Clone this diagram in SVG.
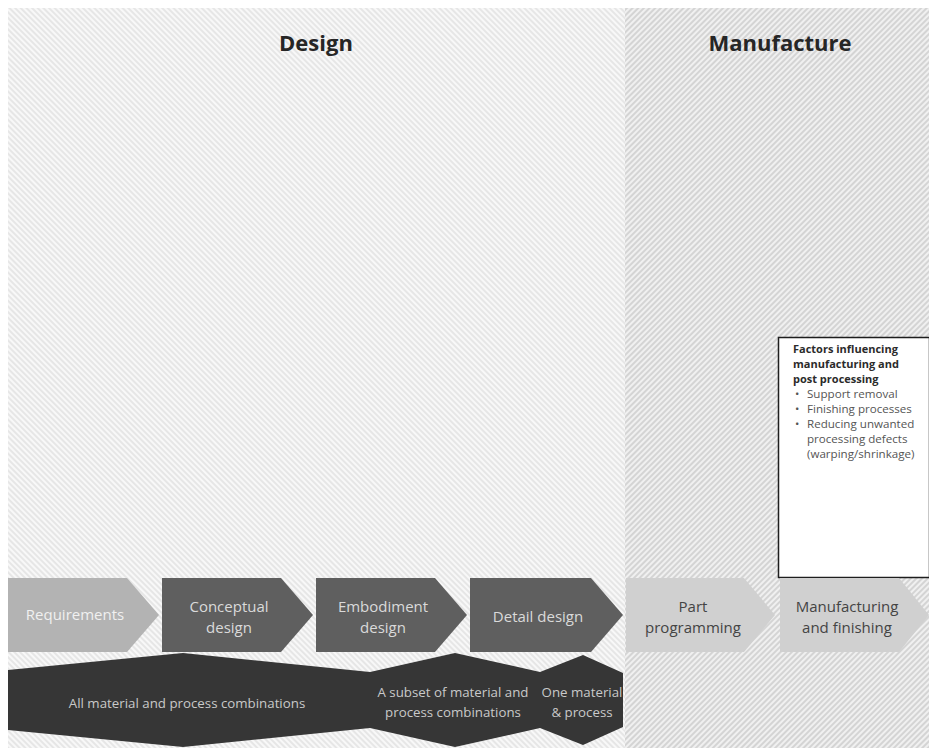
<svg xmlns="http://www.w3.org/2000/svg" width="929" height="748" viewBox="0 0 929 748">
<defs>
<pattern id="hatchD" width="4" height="4" patternUnits="userSpaceOnUse" patternTransform="rotate(-45)">
<rect width="4" height="4" fill="#f8f8f8"/>
<line x1="1" y1="0" x2="1" y2="4" stroke="#e0e0e0" stroke-width="1.5"/>
</pattern>
<pattern id="hatchM" width="4" height="4" patternUnits="userSpaceOnUse" patternTransform="rotate(45)">
<rect width="4" height="4" fill="#f0f0f0"/>
<line x1="1" y1="0" x2="1" y2="4" stroke="#cdcdcd" stroke-width="1.6"/>
</pattern>
<style>
.t{font-family:"Open Sans","Liberation Sans",sans-serif;text-anchor:middle}
.head{font-size:22px;font-weight:bold;fill:#262626}
.step{font-size:15px}
.light{fill:#b3b3b3}
.dark{fill:#5f5f5f}
.pale{fill:#d0d0d0}
.tw{fill:#f0f0f0}
.tl{fill:#dadada}
.td{fill:#444444}
.band{font-size:13.3px;fill:#c9c9c9}
.box{font-family:"Open Sans","Liberation Sans",sans-serif}
.bh{font-size:11px;font-weight:bold;fill:#2b2b2b}
.bl{font-size:11.6px;fill:#555555}
</style>
</defs>
<rect width="929" height="748" fill="#ffffff"/>
<g id="region-design">
<rect x="8" y="8" width="617" height="740" fill="url(#hatchD)"/>
<text class="t head" x="316" y="51">Design</text>
</g>
<g id="region-manufacture">
<rect x="625" y="8" width="304" height="740" fill="url(#hatchM)"/>
<text class="t head" x="780" y="51">Manufacture</text>
</g>
<g id="connectors"/>
<g id="factors-box">
<rect x="778.5" y="337.5" width="151" height="240" fill="#ffffff" stroke="#1e1e1e" stroke-width="1.5"/>
<g class="box">
<text class="bh" x="793" y="353">Factors influencing</text>
<text class="bh" x="793" y="368">manufacturing and</text>
<text class="bh" x="793" y="383">post processing</text>
<text class="bl" x="795" y="398">•</text><text class="bl" x="807" y="398">Support removal</text>
<text class="bl" x="795" y="413">•</text><text class="bl" x="807" y="413">Finishing processes</text>
<text class="bl" x="795" y="428">•</text><text class="bl" x="807" y="428">Reducing unwanted</text>
<text class="bl" x="807" y="443">processing defects</text>
<text class="bl" x="807" y="458">(warping/shrinkage)</text>
</g>
</g>
<g id="step-requirements">
<polygon class="light" points="8,578 127,578 159,615 127,652 8,652"/>
<text class="t step tw" x="75" y="620">Requirements</text>
</g>
<g id="step-conceptual">
<polygon class="dark" points="162,578 281,578 313,615 281,652 162,652"/>
<text class="t step tl" x="229" y="612">Conceptual</text>
<text class="t step tl" x="229" y="633">design</text>
</g>
<g id="step-embodiment">
<polygon class="dark" points="316,578 435,578 467,615 435,652 316,652"/>
<text class="t step tl" x="383" y="612">Embodiment</text>
<text class="t step tl" x="383" y="633">design</text>
</g>
<g id="step-detail">
<polygon class="dark" points="470,578 591,578 623,615 591,652 470,652"/>
<text class="t step tl" x="538" y="622">Detail design</text>
</g>
<g id="step-part">
<polygon class="pale" points="626,578 744,578 775,615 744,652 626,652"/>
<text class="t step td" x="693" y="612">Part</text>
<text class="t step td" x="693" y="633">programming</text>
</g>
<g id="step-manufacturing">
<polygon class="pale" points="780,578 899,578 929,615 899,652 780,652"/>
<text class="t step td" x="847" y="612">Manufacturing</text>
<text class="t step td" x="847" y="633">and finishing</text>
</g>
<g id="options-band">
<polygon fill="#363636" points="8,670 183,653 370,672 455,653 540,672 583,655 623,673 623,727 583,745 540,728 455,747 370,728 183,747 8,730"/>
<text class="t band" x="187" y="708">All material and process combinations</text>
<text class="t band" x="453" y="697">A subset of material and</text>
<text class="t band" x="453" y="717">process combinations</text>
<text class="t band" x="582" y="697">One material</text>
<text class="t band" x="582" y="717">&amp; process</text>
</g>
</svg>
